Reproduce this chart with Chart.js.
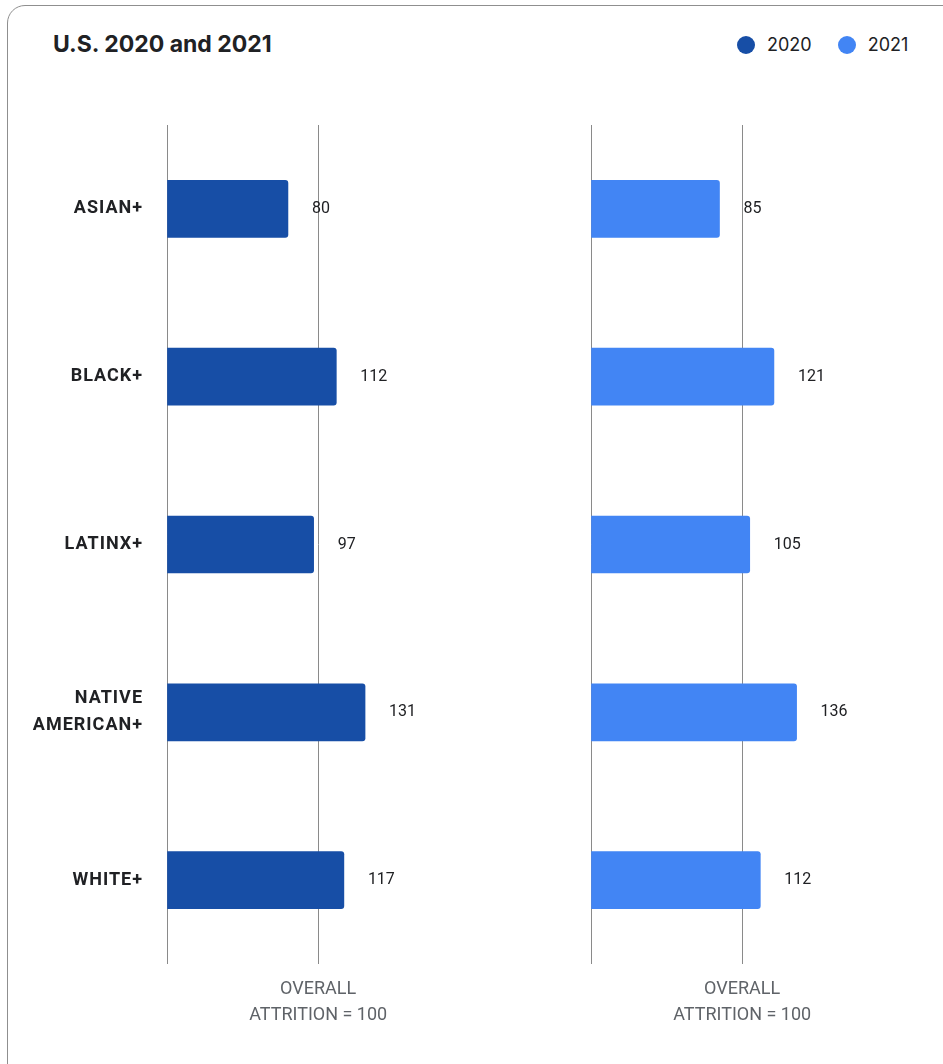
<!DOCTYPE html>
<html>
<head>
<meta charset="utf-8">
<title>U.S. 2020 and 2021</title>
<script src="https://cdn.jsdelivr.net/npm/chart.js@4"></script>
<style>
  html, body { margin: 0; padding: 0; background: #fff; width: 943px; height: 1064px; overflow: hidden; }
  .card {
    position: absolute; left: 7px; top: 5px; width: 990px; height: 1100px;
    border: 1px solid #8f8f8f; border-radius: 18px; box-sizing: border-box;
  }
  .title {
    position: absolute; left: 53px; top: 30px;
    font: 700 23px Inter, Roboto, sans-serif; color: #202124;
  }
  .legend {
    position: absolute; left: 737px; top: 34px; display: flex; align-items: center;
    font: 400 18px Inter, Roboto, sans-serif; color: #202124;
  }
  .legend span.dot { width: 18px; height: 18px; border-radius: 50%; display: inline-block; margin-right: 12px; }
  .legend span.item { display: flex; align-items: center; margin-right: 26px; }
  .panel { position: absolute; top: 100px; height: 940px; }
</style>
</head>
<body>
<div class="card"></div>
<div class="title">U.S. 2020 and 2021</div>
<div class="legend">
  <span class="item"><span class="dot" style="background:#174ea6"></span>2020</span>
  <span class="item"><span class="dot" style="background:#4285f4"></span>2021</span>
</div>
<div class="panel" style="left:20px; width:420px;"><canvas id="chart2020"></canvas></div>
<div class="panel" style="left:560px; width:383px;"><canvas id="chart2021"></canvas></div>

<script>
const categories = ['ASIAN+', 'BLACK+', 'LATINX+', ['NATIVE', 'AMERICAN+'], 'WHITE+'];
const values2020 = [80, 112, 97, 131, 117];
const values2021 = [85, 121, 105, 136, 112];
const referenceTicks = [0, 100];
const referenceLabel = ['OVERALL', 'ATTRITION = 100'];

// prints each bar's value a little past its end
const valueLabels = {
  id: 'valueLabels',
  afterDraw(chart) {
    const ctx = chart.ctx;
    const values = chart.data.datasets[0].data;
    ctx.save();
    ctx.font = '400 16px Roboto';
    ctx.fillStyle = '#202124';
    ctx.textBaseline = 'middle';
    ctx.textAlign = 'left';
    chart.getDatasetMeta(0).data.forEach((bar, i) => {
      ctx.fillText(values[i], bar.x + 24, bar.y);
    });
    ctx.restore();
  }
};

// category names are drawn slightly letter-spaced
function spaceLabels(scale) {
  if (scale._spaced) return;
  const draw = scale.drawLabels.bind(scale);
  scale.drawLabels = area => {
    scale.ctx.letterSpacing = '1px';
    draw(area);
    scale.ctx.letterSpacing = '0px';
  };
  scale._spaced = true;
}

function makeChart(id, label, values, color, showLabels, padding) {
  new Chart(document.getElementById(id), {
    type: 'bar',
    data: {
      labels: categories,
      datasets: [{
        label: label,
        data: values,
        backgroundColor: color,
        barThickness: 57,
        borderRadius: 3,
        borderSkipped: 'start'
      }]
    },
    options: {
      indexAxis: 'y',
      responsive: true,
      maintainAspectRatio: false,
      animation: false,
      layout: { padding: padding },
      plugins: {
        legend: { display: false },
        tooltip: { enabled: false }
      },
      scales: {
        x: {
          min: 0,
          max: 170,
          z: 1,
          afterBuildTicks: axis => { axis.ticks = referenceTicks.map(v => ({ value: v })); },
          afterFit: scale => { scale.height = 76; },
          grid: { color: '#8a8a8a', lineWidth: 1, drawTicks: false },
          border: { display: false },
          ticks: {
            autoSkip: false,
            maxRotation: 0,
            padding: 12,
            color: '#5f6368',
            font: { family: 'Roboto', size: 18, lineHeight: 1.45 },
            callback: v => (v === 100 ? referenceLabel : '')
          }
        },
        y: {
          display: showLabels,
          afterFit: scale => {
            if (!showLabels) return;
            scale.width = 147;
            scale.paddingTop = 0;
            scale.paddingBottom = 0;
          },
          afterUpdate: spaceLabels,
          grid: { display: false, drawTicks: false },
          border: { display: false },
          ticks: {
            padding: 24,
            color: '#202124',
            font: { family: 'Roboto', size: 18, weight: 'bold', lineHeight: 1.5 }
          }
        }
      }
    },
    plugins: [valueLabels]
  });
}

makeChart('chart2020', '2020', values2020, '#174ea6', true, { top: 25, right: 16, left: 0, bottom: 0 });
makeChart('chart2021', '2021', values2021, '#4285f4', false, { top: 25, right: 95, left: 31, bottom: 0 });
</script>
</body>
</html>
